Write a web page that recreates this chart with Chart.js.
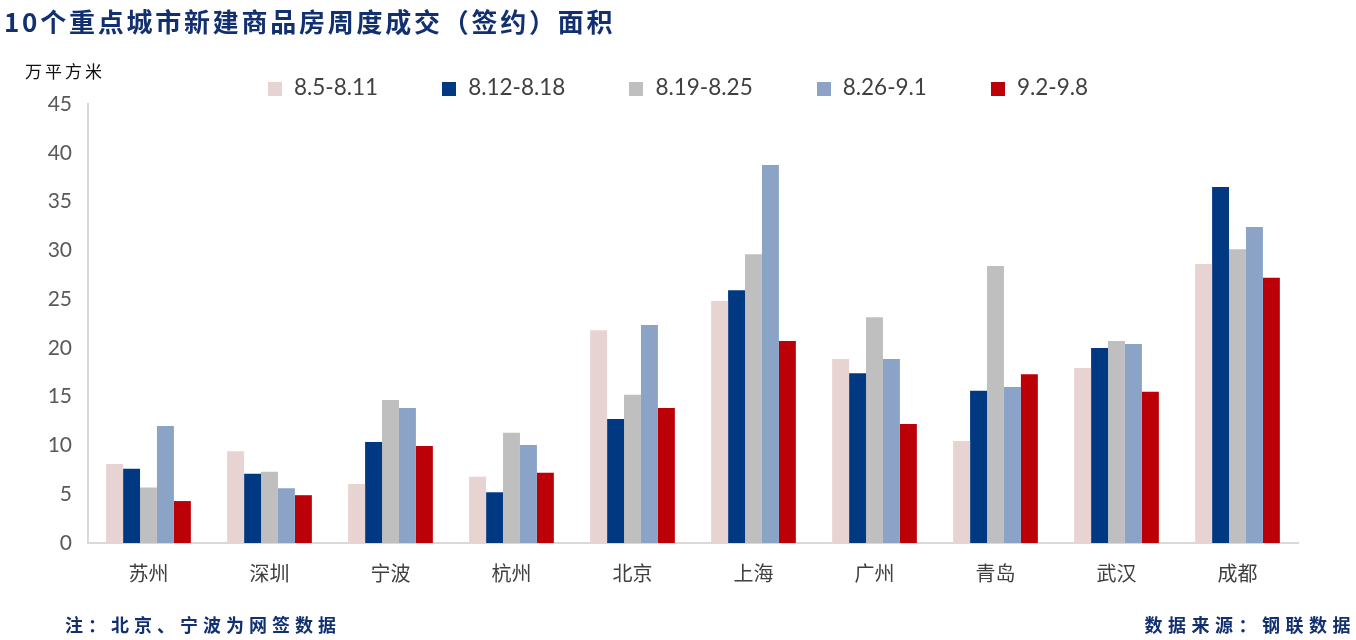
<!DOCTYPE html>
<html>
<head>
<meta charset="utf-8">
<script src="https://cdn.jsdelivr.net/npm/chart.js@4.4.1/dist/chart.umd.min.js"></script>
<style>
  body { margin: 0; background: #fff; }
  #wrap { position: relative; width: 1356px; height: 640px; overflow: hidden; }
  #chart { position: absolute; left: 0; top: 0; }
  .title { position: absolute; left: 4px; top: 2px; font: bold 26px "Noto Sans CJK SC"; color: #12306f; letter-spacing: 2.75px; white-space: nowrap; }
  .unit { position: absolute; left: 25px; top: 58px; font: 17px "Noto Sans CJK SC"; color: #111; letter-spacing: 3px; }
  .note { position: absolute; top: 611px; font: bold 18px "Noto Sans CJK SC"; color: #12306f; letter-spacing: 5px; white-space: nowrap; }
  #legend { position: absolute; left: 0; width: 1356px; top: 73px; display: flex; justify-content: center; gap: 64px; font: 22.5px Lato, "Noto Sans"; color: #404040; }
  #legend span.box { display: inline-block; width: 14px; height: 14px; margin-right: 12px; vertical-align: -1px; }
</style>
</head>
<body>
<div id="wrap">
  <canvas id="chart" width="1356" height="640"></canvas>
  <div class="title">10个重点城市新建商品房周度成交（签约）面积</div>
  <div class="unit">万平方米</div>
  <div id="legend"></div>
  <div class="note" style="left:65px">注：北京、宁波为网签数据</div>
  <div class="note" style="right:0px;letter-spacing:5.5px">数据来源：钢联数据</div>
</div>
<script>
// 城市
const cities = ["苏州", "深圳", "宁波", "杭州", "北京", "上海", "广州", "青岛", "武汉", "成都"];
// 周度
const weeks = ["8.5-8.11", "8.12-8.18", "8.19-8.25", "8.26-9.1", "9.2-9.8"];
const colors = ["#e8d3d3", "#003882", "#bfbfbf", "#8aa3c7", "#bc0007"];

// 成交面积 (万平方米)
const w0805 = [8.1, 9.4, 6.05, 6.8, 21.8, 24.8, 18.85, 10.45, 17.95, 28.6];
const w0812 = [7.6, 7.1, 10.35, 5.2, 12.7, 25.9, 17.4, 15.6, 20.0, 36.5];
const w0819 = [5.7, 7.3, 14.65, 11.3, 15.2, 29.6, 23.15, 28.4, 20.7, 30.1];
const w0826 = [12.0, 5.6, 13.85, 10.05, 22.35, 38.75, 18.85, 16.0, 20.4, 32.4];
const w0902 = [4.3, 4.9, 9.95, 7.2, 13.85, 20.7, 12.2, 17.3, 15.5, 27.2];

const series = [w0805, w0812, w0819, w0826, w0902];

// 图例
const legend = document.getElementById("legend");
weeks.forEach((w, i) => {
  const d = document.createElement("div");
  d.innerHTML = `<span class="box" style="background:${colors[i]}"></span>${w}`;
  legend.appendChild(d);
});

new Chart(document.getElementById("chart"), {
  type: "bar",
  data: {
    labels: cities,
    datasets: series.map((s, i) => ({
      label: weeks[i],
      data: s,
      backgroundColor: colors[i],
      barPercentage: 1,
      categoryPercentage: 0.7,
    })),
  },
  options: {
    responsive: false,
    animation: false,
    layout: { padding: { left: 0, top: 104, right: 58, bottom: 0 } },
    plugins: { legend: { display: false }, tooltip: { enabled: false } },
    scales: {
      x: {
        grid: { display: false, drawTicks: false },
        border: { color: "#d9d9d9", width: 2 },
        ticks: { padding: 18, color: "#404040", font: { family: "Noto Sans CJK SC", size: 20 } },
        afterFit: (s) => { s.height = 97; },
      },
      y: {
        min: 0,
        max: 45,
        grid: { display: false, drawTicks: false },
        border: { color: "#d9d9d9", width: 2 },
        ticks: { stepSize: 5, padding: 16, color: "#595959", font: { family: "Lato", size: 21 } },
        afterFit: (s) => { s.width = 88; },
      },
    },
  },
});
</script>
</body>
</html>
